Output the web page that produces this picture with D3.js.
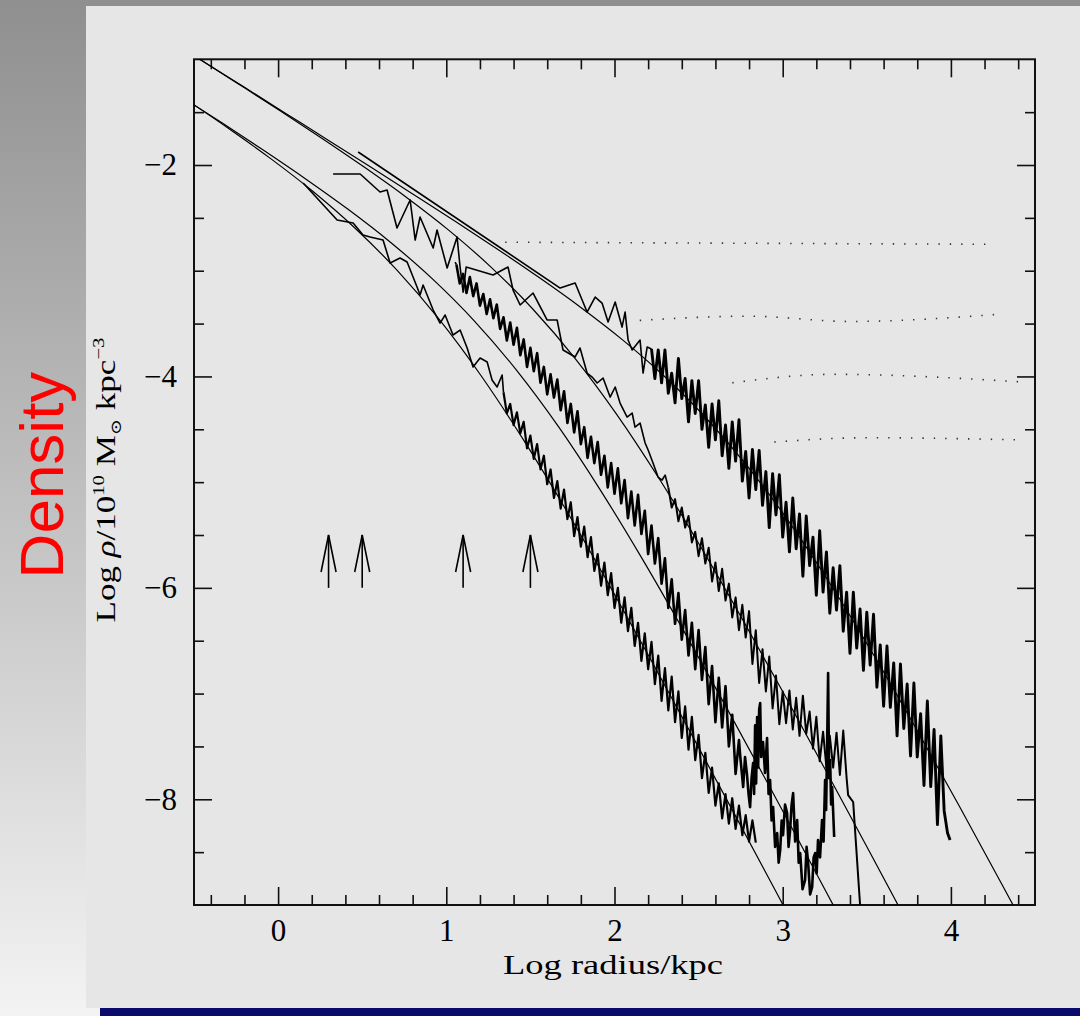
<!DOCTYPE html>
<html><head><meta charset="utf-8">
<script src="https://cdn.jsdelivr.net/npm/d3@7"></script>
<style>html,body{margin:0;padding:0;background:#fff;} svg{display:block}</style>
</head><body>
<svg id="c" width="1080" height="1016"></svg>
<script>
// ---------- data ----------
const xDomain = [-0.5, 4.5];
const yDomain = [-9, -1];
const xMajor = [0, 1, 2, 3, 4];
const xMinor = [-0.4,-0.2,0.2,0.4,0.6,0.8,1.2,1.4,1.6,1.8,2.2,2.4,2.6,2.8,3.2,3.4,3.6,3.8,4.2,4.4];
const yMajor = [-8, -6, -4, -2];
const yMinor = [-8.5,-7.5,-7,-6.5,-5.5,-5,-4.5,-3.5,-3,-2.5,-1.5];
const xLabel = "Log radius/kpc";
const sideLabel = "Density";
// softening-length arrows (log r) and their vertical extent (log rho)
const arrowR = [0.3, 0.5, 1.1, 1.5];
const arrowY = [-6.0, -5.5];

// smooth fitted profiles [log r, log rho]
const fit1 = [[-0.542,-1.386],[-0.292,-1.657],[-0.042,-1.942],[0.208,-2.251],[0.458,-2.598],[0.708,-2.997],[0.958,-3.461],[1.208,-3.996],[1.458,-4.598],[1.708,-5.251],[1.958,-5.942],[2.208,-6.656],[2.458,-7.386],[2.708,-8.124],[2.958,-8.868],[3.208,-9.614]];
const fit2 = [[-0.584,-1.345],[-0.334,-1.601],[-0.084,-1.863],[0.166,-2.134],[0.416,-2.419],[0.666,-2.728],[0.916,-3.075],[1.166,-3.474],[1.416,-3.938],[1.666,-4.473],[1.916,-5.075],[2.166,-5.728],[2.416,-6.419],[2.666,-7.133],[2.916,-7.863],[3.166,-8.601],[3.416,-9.345]];
const fit3 = [[-0.486,-0.979],[-0.236,-1.233],[0.014,-1.489],[0.264,-1.751],[0.514,-2.022],[0.764,-2.307],[1.014,-2.616],[1.264,-2.963],[1.514,-3.362],[1.764,-3.826],[2.014,-4.361],[2.264,-4.963],[2.514,-5.616],[2.764,-6.307],[3.014,-7.021],[3.264,-7.751],[3.514,-8.489],[3.764,-9.233]];
const fit4 = [[-0.702,-0.762],[-0.452,-1.013],[-0.202,-1.263],[0.048,-1.514],[0.298,-1.765],[0.548,-2.017],[0.798,-2.271],[1.048,-2.527],[1.298,-2.789],[1.548,-3.060],[1.798,-3.345],[2.048,-3.654],[2.298,-4.001],[2.548,-4.400],[2.798,-4.864],[3.048,-5.399],[3.298,-6.001],[3.548,-6.654],[3.798,-7.345],[4.048,-8.059],[4.298,-8.789],[4.548,-9.527]];

// measured profiles: sparse inner points [log r, log rho] ...
const prof1Inner = [[0.149,-2.170],[0.351,-2.520],[0.446,-2.549],[0.505,-2.662],[0.547,-2.681],[0.624,-2.710],[0.666,-2.927],[0.725,-2.880],[0.767,-2.918],[0.826,-3.154],[0.844,-3.230],[0.862,-3.135],[0.886,-3.230],[0.922,-3.372],[0.963,-3.495],[0.993,-3.419],[1.040,-3.608],[1.082,-3.561],[1.124,-3.731],[1.159,-3.911],[1.201,-3.826],[1.243,-3.864],[1.272,-4.034],[1.302,-4.100],[1.332,-3.987]];
const prof2Inner = [[1.052,-2.918]];
const prof3Inner = [[0.327,-2.085],[0.488,-2.085],[0.606,-2.255],[0.648,-2.237],[0.707,-2.596],[0.785,-2.331],[0.815,-2.710],[0.844,-2.492],[0.922,-2.785],[0.945,-2.615],[1.005,-2.974],[1.064,-2.681],[1.082,-2.965],[1.100,-3.202],[1.118,-2.965],[1.278,-3.041],[1.367,-2.965],[1.397,-3.183],[1.439,-3.324],[1.516,-3.211],[1.599,-3.466],[1.659,-3.466],[1.694,-3.750],[1.766,-3.816],[1.795,-3.731],[1.837,-3.968],[1.867,-4.006],[1.897,-4.062],[1.932,-4.015],[1.974,-4.195],[2.004,-4.100],[2.033,-4.252],[2.075,-4.384],[2.105,-4.346],[2.122,-4.479],[2.152,-4.441],[2.182,-4.630],[2.200,-4.696],[2.229,-4.819],[2.259,-4.952],[2.283,-4.980],[2.301,-4.933]];
const prof4Inner = [[0.476,-1.877],[1.677,-3.164],[1.766,-3.116],[1.837,-3.391],[1.885,-3.249],[1.926,-3.306],[1.962,-3.485],[2.004,-3.296],[2.045,-3.533],[2.063,-3.391],[2.081,-3.656],[2.105,-3.750],[2.152,-3.656],[2.170,-3.968],[2.194,-3.722]];
// ... evenly binned outer values (bin width in log r) ...
const binStep = 0.02;
const prof1Start = 1.34;
const prof1Bins = [-4.15,-4.35,-4.26,-4.46,-4.34,-4.54,-4.43,-4.68,-4.56,-4.78,-4.64,-4.88,-4.75,-5.02,-4.88,-5.15,-4.99,-5.25,-5.07,-5.35,-5.19,-5.51,-5.33,-5.61,-5.42,-5.71,-5.52,-5.84,-5.68,-5.98,-5.76,-6.07,-5.86,-6.19,-6.00,-6.33,-6.09,-6.41,-6.19,-6.55,-6.33,-6.69,-6.43,-6.77,-6.51,-6.91,-6.64,-7.07,-6.76,-7.16,-6.84,-7.27,-6.98,-7.42,-7.12,-7.53,-7.22,-7.63,-7.39,-7.80,-7.56,-7.94,-7.70,-8.06,-7.85,-8.18,-7.95,-8.23,-7.99,-8.28,-8.06,-8.34,-8.15,-8.40,-8.20,-8.41];
const prof2Start = 1.06;
const prof2Bins = [-2.94,-3.12,-3.03,-3.21,-3.06,-3.24,-3.12,-3.33,-3.22,-3.41,-3.27,-3.45,-3.32,-3.55,-3.44,-3.66,-3.49,-3.70,-3.54,-3.80,-3.65,-3.91,-3.73,-3.95,-3.78,-4.06,-3.91,-4.17,-3.98,-4.20,-4.03,-4.32,-4.14,-4.44,-4.26,-4.53,-4.33,-4.64,-4.48,-4.77,-4.57,-4.82,-4.62,-4.93,-4.75,-5.05,-4.82,-5.11,-4.87,-5.20,-4.98,-5.34,-5.09,-5.41,-5.12,-5.49,-5.27,-5.68,-5.41,-5.77,-5.53,-5.96,-5.72,-6.19,-5.92,-6.34,-6.05,-6.49,-6.21,-6.64,-6.33,-6.77,-6.40,-6.87,-6.56,-7.10,-6.74,-7.27,-6.85,-7.32,-6.93,-7.50,-7.20,-7.76,-7.44];
const prof3Start = 2.32;
const prof3Bins = [-5.05,-5.24,-5.16,-5.37,-5.24,-5.43,-5.32,-5.57,-5.47,-5.70,-5.53,-5.77,-5.62,-5.94,-5.76,-6.03,-5.82,-6.12,-5.96,-6.28,-6.09,-6.40,-6.16,-6.47,-6.22,-6.72,-6.40,-6.90,-6.58,-6.98,-6.65,-7.14,-6.83,-7.29,-6.98,-7.28,-6.97,-7.34,-7.04,-7.40,-7.02,-7.38,-7.17,-7.52,-7.22,-7.64,-7.36,-7.70,-7.40,-7.70,-7.37,-7.77,-7.35,-7.80];
const prof4Start = 2.22;
const prof4Bins = [-3.74,-4.02,-3.75,-4.06,-3.75,-4.16,-3.97,-4.25,-3.83,-4.21,-4.02,-4.43,-4.04,-4.35,-4.04,-4.50,-4.27,-4.67,-4.26,-4.60,-4.23,-4.75,-4.46,-4.87,-4.43,-4.80,-4.41,-4.99,-4.71,-5.15,-4.69,-5.07,-4.70,-5.22,-4.90,-5.43,-4.92,-5.31,-4.93,-5.52,-5.19,-5.66,-5.15,-5.63,-5.30,-5.89,-5.32,-5.79,-5.52,-6.07,-5.46,-6.04,-5.66,-6.24,-5.81,-6.21,-5.79,-6.41,-6.04,-6.62,-6.04,-6.57,-6.20,-6.78,-6.23,-6.73,-6.25,-6.94,-6.54,-7.12,-6.55,-7.13,-6.71,-7.40,-6.72,-7.33,-6.91,-7.59,-6.90,-7.60,-7.19,-7.87,-7.07,-7.88,-7.34,-8.24,-7.40,-8.11,-8.32];
// ... and the noisy outer tails [log r, log rho]
const prof2Tail = [[2.747,-7.582],[2.765,-7.884],[2.776,-7.60],[2.788,-7.771],[2.797,-7.95],[2.806,-8.074],[2.815,-7.80],[2.824,-7.657],[2.830,-7.95],[2.836,-7.30],[2.842,-7.85],[2.848,-7.222],[2.854,-7.70],[2.860,-7.15],[2.866,-7.090],[2.872,-7.60],[2.883,-7.459],[2.895,-7.75],[2.907,-7.421],[2.916,-7.95],[2.925,-7.818],[2.934,-8.20],[2.943,-8.074],[2.955,-8.45],[2.967,-8.320],[2.976,-8.60],[2.985,-8.481],[2.994,-8.20],[3.002,-8.339],[3.014,-8.05],[3.026,-8.130],[3.035,-8.45],[3.044,-8.291],[3.053,-8.05],[3.062,-7.941],[3.074,-8.40],[3.086,-8.197],[3.095,-8.60],[3.104,-8.509],[3.118,-8.85],[3.133,-8.764],[3.142,-8.45],[3.151,-8.594],[3.163,-8.90],[3.175,-8.831],[3.184,-8.55],[3.193,-8.509],[3.202,-8.70],[3.210,-8.386],[3.222,-8.55],[3.234,-8.197],[3.243,-8.40],[3.252,-7.818],[3.258,-8.10],[3.264,-7.506],[3.270,-6.806],[3.276,-7.80],[3.282,-7.629],[3.288,-8.05],[3.294,-7.884],[3.306,-8.357]];
const prof3Tail = [[3.389,-7.960],[3.419,-8.026],[3.466,-9.142]];
const prof4Tail = [[3.995,-8.386]];
// faint dotted background rows [log r, log rho]
const bgRows = [
  [[1.35,-2.73],[4.23,-2.75]],
  [[2.15,-3.47],[2.8,-3.43],[3.4,-3.48],[4.3,-3.41]],
  [[2.7,-4.06],[3.3,-3.98],[4.4,-4.05]],
  [[2.95,-4.62],[3.5,-4.58],[4.4,-4.60]]
];

// ---------- drawing ----------
const W = 1080, H = 1016;
const svg = d3.select('#c');
const defs = svg.append('defs');
const grad = defs.append('linearGradient').attr('id','bg').attr('x1',0).attr('y1',0).attr('x2',0).attr('y2',1);
grad.append('stop').attr('offset','0%').attr('stop-color','#8f8f8f');
grad.append('stop').attr('offset','100%').attr('stop-color','#f3f3f3');
svg.append('rect').attr('width',W).attr('height',H).attr('fill','url(#bg)');
svg.append('rect').attr('x',86).attr('y',6).attr('width',W-86).attr('height',1002).attr('fill','#e6e6e6');
svg.append('rect').attr('x',100).attr('y',1008).attr('width',W-100).attr('height',8).attr('fill','#0a0a6c');

const m = {l:194, t:59.3, r:1035, b:905};
const x = d3.scaleLinear().domain(xDomain).range([m.l, m.r]);
const y = d3.scaleLinear().domain(yDomain).range([m.b, m.t]);
defs.append('clipPath').attr('id','clip').append('rect')
  .attr('x',m.l).attr('y',m.t).attr('width',m.r-m.l).attr('height',m.b-m.t);

const serif = "'Liberation Serif','DejaVu Serif',serif";
const fmt = d3.format('d');

// dotted background rows
const lineSmooth = d3.line().x(d=>x(d[0])).y(d=>y(d[1])).curve(d3.curveMonotoneX);
const gbg = svg.append('g').attr('clip-path','url(#clip)');
bgRows.forEach(r=>{
  gbg.append('path').attr('d',lineSmooth(r)).attr('fill','none').attr('stroke','#333')
    .attr('stroke-width',1.6).attr('stroke-dasharray','1.4 10');
});

function styleAxis(g){
  g.select('.domain').remove();
  g.selectAll('.tick line').attr('stroke','#111').attr('stroke-width',1.6);
  g.selectAll('.tick text').attr('fill','#000').attr('font-family',serif).attr('font-size',31);
}
svg.append('g').attr('transform',`translate(0,${m.b})`)
  .call(d3.axisBottom(x).tickValues(xMajor).tickSize(-18).tickSizeOuter(0).tickPadding(14).tickFormat(fmt)).call(styleAxis);
svg.append('g').attr('transform',`translate(0,${m.b})`)
  .call(d3.axisBottom(x).tickValues(xMinor).tickSize(-10).tickSizeOuter(0).tickFormat('')).call(styleAxis);
svg.append('g').attr('transform',`translate(0,${m.t})`)
  .call(d3.axisTop(x).tickValues(xMajor).tickSize(-18).tickSizeOuter(0).tickFormat('')).call(styleAxis);
svg.append('g').attr('transform',`translate(0,${m.t})`)
  .call(d3.axisTop(x).tickValues(xMinor).tickSize(-10).tickSizeOuter(0).tickFormat('')).call(styleAxis);
svg.append('g').attr('transform',`translate(${m.l},0)`)
  .call(d3.axisLeft(y).tickValues(yMajor).tickSize(-18).tickSizeOuter(0).tickPadding(17).tickFormat(fmt)).call(styleAxis);
svg.append('g').attr('transform',`translate(${m.l},0)`)
  .call(d3.axisLeft(y).tickValues(yMinor).tickSize(-10).tickSizeOuter(0).tickFormat('')).call(styleAxis);
svg.append('g').attr('transform',`translate(${m.r},0)`)
  .call(d3.axisRight(y).tickValues(yMajor).tickSize(-18).tickSizeOuter(0).tickFormat('')).call(styleAxis);
svg.append('g').attr('transform',`translate(${m.r},0)`)
  .call(d3.axisRight(y).tickValues(yMinor).tickSize(-10).tickSizeOuter(0).tickFormat('')).call(styleAxis);

svg.append('rect').attr('x',m.l).attr('y',m.t).attr('width',m.r-m.l).attr('height',m.b-m.t)
  .attr('fill','none').attr('stroke','#111').attr('stroke-width',2);

const gp = svg.append('g').attr('clip-path','url(#clip)');
const lineProf = d3.line().x(d=>x(d[0])).y(d=>y(d[1]));
[fit1,fit2,fit3,fit4].forEach(f=>{
  gp.append('path').attr('d',lineSmooth(f)).attr('fill','none').attr('stroke','#000').attr('stroke-width',1.2);
});
function binned(start, vals){ return vals.map((v,i)=>[start + i*binStep, v]); }
const profiles = [
  {inner: prof1Inner, outer: binned(prof1Start, prof1Bins), w: 2.2},
  {inner: prof2Inner, outer: binned(prof2Start, prof2Bins).concat(prof2Tail), w: 2.6},
  {inner: prof3Inner, outer: binned(prof3Start, prof3Bins).concat(prof3Tail), w: 2.0},
  {inner: prof4Inner, outer: binned(prof4Start, prof4Bins).concat(prof4Tail), w: 2.9}
];
profiles.forEach(p=>{
  // sparse inner part: thin line; dense outer part: heavier noisy band
  gp.append('path').attr('d',lineProf(p.inner.concat([p.outer[0]]))).attr('fill','none').attr('stroke','#000')
    .attr('stroke-width',1.6).attr('stroke-linejoin','round');
  gp.append('path').attr('d',lineProf(p.outer)).attr('fill','none').attr('stroke','#000')
    .attr('stroke-width',p.w).attr('stroke-linejoin','round');
});

// arrows
const ga = svg.append('g').attr('stroke','#000').attr('fill','none').attr('stroke-width',1.6);
arrowR.forEach(r=>{
  const X = x(r), y0 = y(arrowY[0]), y1 = y(arrowY[1]);
  ga.append('line').attr('x1',X).attr('x2',X).attr('y1',y0).attr('y2',y1);
  ga.append('path').attr('d',`M${X-7.5},${y1+37}L${X},${y1}L${X+7.5},${y1+37}`);
});

// x title
const xt = svg.append('text').attr('font-family',serif).attr('font-size',27).attr('fill','#000')
  .attr('text-anchor','middle').text(xLabel);
const xl = xt.node().getComputedTextLength();
xt.attr('transform',`translate(613,974) scale(${220/xl},1)`);

// y title
const yt = svg.append('text').attr('font-family',serif).attr('font-size',27).attr('fill','#000').attr('text-anchor','middle');
yt.append('tspan').text('Log ');
yt.append('tspan').attr('font-style','italic').text('ρ');
yt.append('tspan').text('/10');
yt.append('tspan').attr('font-size',16).attr('dy',-11).text('10');
yt.append('tspan').attr('dy',11).text(' M');
yt.append('tspan').attr('font-size',15).attr('dy',6).text('⊙');
yt.append('tspan').attr('dy',-6).text(' kpc');
yt.append('tspan').attr('font-size',16).attr('dy',-11).text('−3');
const yl = yt.node().getComputedTextLength();
yt.attr('transform',`translate(115,480) rotate(-90) scale(${285/yl},1)`);

// side label
svg.append('text').attr('font-family',"'Liberation Sans',Arial,sans-serif").attr('font-size',62)
  .attr('fill','#ff0000').attr('text-anchor','middle')
  .attr('transform','translate(63,475) rotate(-90)').text(sideLabel);
</script>
</body></html>
